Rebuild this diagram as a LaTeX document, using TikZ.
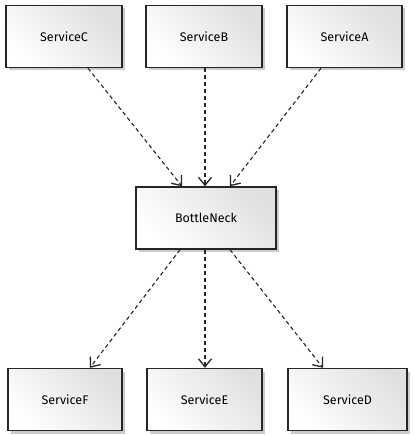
\documentclass[tikz,border=0pt]{standalone}
\usepackage{fontspec}
\setmainfont{Fira Sans}
\usetikzlibrary{arrows.meta,shadows}
\tikzset{
  svc/.style={draw=black!85, line width=1.4pt, left color=white, right color=black!12, shading angle=135,
    minimum width=#1, minimum height=62pt, inner sep=0pt, font=\fontsize{12.5}{14}\selectfont,
    drop shadow={shadow xshift=3pt, shadow yshift=-3pt, fill=black!40, opacity=0.5}},
  dep/.style={draw=black!85, line width=1.1pt, dash pattern=on 4pt off 3pt, -{Straight Barb[length=8pt,width=13pt,line width=1.3pt]}}
}
\begin{document}
\begin{tikzpicture}[x=1pt,y=-1pt]
\useasboundingbox (0,0) rectangle (413,435);
\node[svc=116pt] (C) at (64,36.5) {ServiceC};
\node[svc=116pt] (B) at (204,36.5) {ServiceB};
\node[svc=115pt] (A) at (344.5,36.5) {ServiceA};
\node[svc=140pt] (N) at (206,218) {BottleNeck};
\node[svc=114pt] (F) at (65,399.5) {ServiceF};
\node[svc=115pt] (E) at (204.5,399.5) {ServiceE};
\node[svc=119pt] (D) at (347.5,399.5) {ServiceD};
\draw[dep] (C.south -| 88,0) -- (N.north -| 182,0);
\draw[dep] (B.south -| 205,0) -- (N.north -| 205,0);
\draw[dep] (A.south -| 321,0) -- (N.north -| 230,0);
\draw[dep] (N.south -| 180,0) -- (F.north -| 90,0);
\draw[dep] (N.south -| 205,0) -- (E.north -| 205,0);
\draw[dep] (N.south -| 230,0) -- (D.north -| 323,0);
\end{tikzpicture}
\end{document}
